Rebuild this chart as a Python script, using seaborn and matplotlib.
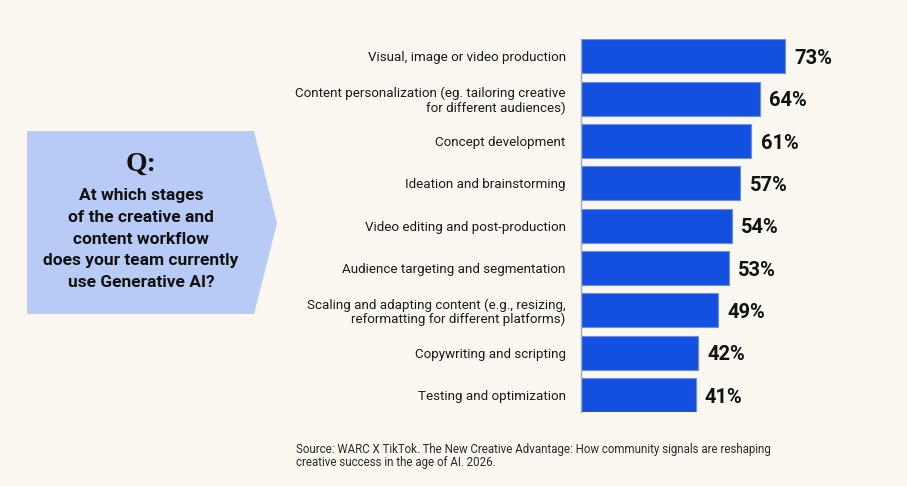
import matplotlib
matplotlib.use("Agg")
import matplotlib.pyplot as plt
from matplotlib.patches import Polygon
import seaborn as sns
import pandas as pd

# data
categories = [
    "Visual, image or video production",
    "Content personalization (eg. tailoring creative\nfor different audiences)",
    "Concept development",
    "Ideation and brainstorming",
    "Video editing and post-production",
    "Audience targeting and segmentation",
    "Scaling and adapting content (e.g., resizing,\nreformatting for different platforms)",
    "Copywriting and scripting",
    "Testing and optimization",
]
shares = [73, 64, 61, 57, 54, 53, 49, 42, 41]

question = ("At which stages\nof the creative and\ncontent workflow\n"
            "does your team currently\nuse Generative AI?")
source = ("Source: WARC X TikTok. The New Creative Advantage: How community signals are reshaping\n"
          "creative success in the age of AI. 2026.")

BG = "#FBF8F1"
BAR = "#1450DF"
BOX = "#B8CBF6"
W, H = 907, 486

df = pd.DataFrame({"stage": categories, "share": shares})

sns.set_style("white")
plt.rcParams["font.family"] = ["Roboto", "DejaVu Sans"]

fig = plt.figure(figsize=(W / 100, H / 100), dpi=100, facecolor=BG)
ax = fig.add_axes([581 / W, 1 - 412 / H, 300 / W, (412 - 39.5) / H])
ax.set_facecolor(BG)

sns.barplot(data=df, x="share", y="stage", orient="h", color=BAR,
            saturation=1, width=0.8, edgecolor="#6E8FE8", linewidth=0.8, ax=ax)

ax.set_xlim(0, 73 * 300 / 204)
ax.set_ylim(len(categories) - 0.6, -0.4)
ax.set_xlabel("")
ax.set_ylabel("")
ax.set_xticks([])
ax.tick_params(axis="y", length=0, pad=11, labelsize=9.6, labelcolor="#1a1a1a")
for lab in ax.get_yticklabels():
    lab.set_linespacing(1.1)

for s in ["top", "right", "bottom"]:
    ax.spines[s].set_visible(False)
ax.spines["left"].set_color("#A9A9A9")
ax.spines["left"].set_linewidth(1)

for i, v in enumerate(shares):
    ax.text(v + 3.3, i + 0.05, f"{v}%", va="center", ha="left",
            fontsize=14.5, fontweight="bold", color="#111111")

# question box with arrow tip
pts = [(27, 131), (254, 131), (277, 223), (254, 314), (27, 314)]
box = Polygon([(x / W, 1 - y / H) for x, y in pts], closed=True,
              facecolor=BOX, edgecolor="none", transform=fig.transFigure)
fig.add_artist(box)

fig.text(141 / W, 1 - 164 / H, "Q:", ha="center", va="center",
         fontsize=20, fontweight="bold", family=["Liberation Serif"], color="#111111")
fig.text(141 / W, 1 - 239 / H, question, ha="center", va="center",
         fontsize=12.5, fontweight="bold", color="#111111", linespacing=1.55)

fig.text(296 / W, 1 - 456 / H, source, ha="left", va="center",
         fontsize=8.3, color="#2a2a2a", linespacing=1.0)

fig.savefig("out.png", dpi=100, facecolor=BG)
